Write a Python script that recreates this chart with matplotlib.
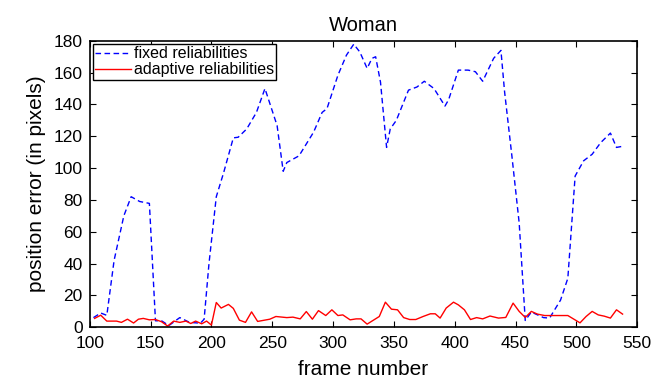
"""Position error per frame for the 'Woman' sequence: fixed vs adaptive reliabilities."""

import matplotlib
matplotlib.use("Agg")
import matplotlib.pyplot as plt

plt.rcParams["font.family"] = ["Liberation Sans", "DejaVu Sans"]

# values
fixed_frames = [103, 109, 114, 120, 128, 134, 141, 149, 154, 159, 165, 174, 182, 191, 194,
                198, 204, 210, 218, 222, 229, 237, 244, 254, 259, 262, 272, 284, 291, 295,
                304, 311, 317, 322, 328, 332, 335, 339, 344, 347, 352, 362, 369, 375, 383,
                392, 395, 403, 411, 417, 423, 432, 438, 441, 447, 453, 458, 463, 473, 478,
                487, 493, 499, 506, 513, 520, 528, 533, 538]
fixed_error = [6, 8.9, 7.4, 42, 70, 82, 79, 77.8, 4, 4, 1, 6, 3, 2.5, 5,
               40, 82, 97, 119, 119.4, 124.6, 135, 150, 126.7, 98, 103.5, 107.7, 122.6, 135, 137.4,
               158.4, 171, 177.9, 173, 162.7, 169, 170, 154, 113, 124.6, 130, 149, 151, 154.6, 150,
               139, 143, 161.6, 161.6, 160.6, 154.6, 169, 174, 148, 107.7, 65.5, 4.2, 9.5, 6, 5.7,
               17, 30.7, 95, 104.6, 108.7, 116, 122, 113, 113.7]

adaptive_frames = [104, 109, 114, 122, 126, 131, 136, 140, 144, 149, 154, 159, 164, 169, 174,
                   179, 183, 187, 192, 196, 200, 204, 208, 214, 218, 223, 228, 233, 238, 248,
                   253, 262, 267, 273, 278, 283, 288, 294, 299, 304, 308, 314, 319, 323, 328,
                   338, 343, 348, 353, 358, 363, 368, 374, 380, 384, 388, 393, 399, 403, 408,
                   413, 418, 423, 429, 436, 442, 448, 453, 458, 463, 468, 474, 484, 493, 503,
                   508, 513, 518, 523, 528, 533, 538]
adaptive_error = [5.5, 7.5, 3.8, 3.8, 3, 5, 2.6, 5, 5.5, 4.6, 4.8, 3.4, 0.7, 3.8, 3,
                  3.8, 2.3, 3.8, 2.1, 3.8, 1.3, 15.5, 12, 14.3, 11.8, 4.4, 3, 9.6, 3.6, 5,
                  6.7, 6, 6.3, 5.2, 9.8, 5, 10.4, 7.3, 10.9, 7.3, 7.7, 4.6, 5.2, 5.2, 1.9,
                  6.7, 15.7, 11.3, 10.9, 6, 4.8, 4.8, 6.7, 8.4, 8.4, 5.7, 12, 15.7, 14, 10.9,
                  4.8, 6, 5.2, 7, 5.7, 6.1, 15.1, 9.9, 6.1, 9.9, 8.2, 7.3, 7.3, 7.3, 2.7,
                  6.7, 9.9, 7.7, 6.9, 5.7, 10.9, 8.2]

x_ticks = [100, 150, 200, 250, 300, 350, 400, 450, 500, 550]
y_ticks = [0, 20, 40, 60, 80, 100, 120, 140, 160, 180]

fig = plt.figure(figsize=(6.7, 3.89), dpi=100)
ax = fig.add_axes([0.134, 0.159, 0.817, 0.736])

ax.plot(fixed_frames, fixed_error, color="#0000ff", linewidth=1.0,
        dashes=(4, 2.5), label="fixed reliabilities")
ax.plot(adaptive_frames, adaptive_error, color="#ff0000", linewidth=1.0,
        label="adaptive reliabilities")

ax.set_xlim(100, 550)
ax.set_ylim(0, 180)
ax.set_xticks(x_ticks)
ax.set_yticks(y_ticks)
ax.tick_params(direction="in", top=True, right=True, length=4, width=0.8,
               labelsize=12.5)
ax.tick_params(axis="x", pad=6.5)
ax.tick_params(axis="y", pad=5)
for spine in ax.spines.values():
    spine.set_linewidth(1.2)

ax.set_xlabel("frame number", fontsize=15, labelpad=6)
ax.set_ylabel("position error (in pixels)", fontsize=15, labelpad=6)
ax.set_title("Woman", fontsize=14.5, pad=7)

leg = ax.legend(loc="upper left", fontsize=11.5, fancybox=False, framealpha=1,
                edgecolor="black", borderaxespad=0.2, borderpad=0.15,
                labelspacing=0.05, handlelength=2.2, handletextpad=0.2)
leg.get_frame().set_linewidth(1.0)

fig.savefig("out.png", dpi=100)
